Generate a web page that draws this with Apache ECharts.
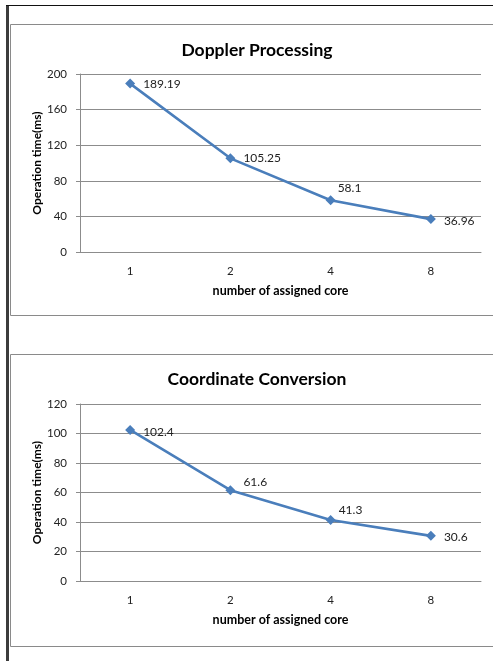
<!DOCTYPE html>
<html>
<head>
<meta charset="utf-8">
<script src="https://cdn.jsdelivr.net/npm/echarts@6/dist/echarts.min.js"></script>
<style>
  html, body { margin: 0; padding: 0; background: #fff; }
  #chart { width: 493px; height: 661px; }
</style>
</head>
<body>
<div id="chart"></div>
<script>
// Category axis: number of cores assigned
const cores = ['1', '2', '4', '8'];

// Operation times (ms)
const dopplerTimes = [189.19, 105.25, 58.1, 36.96];
const coordTimes = [102.4, 61.6, 41.3, 30.6];

// Panel titles and axis names
const dopplerTitle = 'Doppler Processing';
const coordTitle = 'Coordinate Conversion';
const yName = 'Operation time(ms)';
const xName = 'number of assigned core';

// Value-label nudges per point (pixels), to keep labels off the line
const dopplerLabelShift = [[0, 1], [0, 0], [-6, -12], [0, 2]];
const coordLabelShift = [[0, 2], [0, -8], [-5, -10], [0, 1]];

const FONT = 'Lato, "Open Sans", sans-serif';
const LINE = '#4a7ebb';
const GRID = '#8c8c8c';

function points(values, shifts) {
  return values.map((v, i) => ({
    value: v,
    label: { offset: shifts[i] }
  }));
}

function yAxis(gridIndex, max, interval) {
  return {
    type: 'value', gridIndex, min: 0, max, interval,
    name: yName, nameLocation: 'middle', nameGap: 37, nameMoveOverlap: false,
    nameTextStyle: { fontFamily: FONT, fontWeight: 'bold', fontSize: 12, color: '#000' },
    axisLine: { show: true, lineStyle: { color: GRID, width: 1 } },
    axisTick: { show: true, inside: false, length: 4, lineStyle: { color: GRID } },
    axisLabel: { margin: 13, fontFamily: FONT, fontSize: 11.5, color: '#222' },
    splitLine: { show: true, lineStyle: { color: GRID, width: 1 } }
  };
}

function xAxis(gridIndex) {
  return {
    type: 'category', gridIndex, data: cores, boundaryGap: true,
    name: xName, nameLocation: 'middle', nameGap: 32, nameMoveOverlap: false,
    nameTextStyle: { fontFamily: FONT, fontWeight: 'bold', fontSize: 12.5, color: '#000' },
    axisLine: { show: true, onZero: false, lineStyle: { color: GRID, width: 1 } },
    axisTick: { show: false },
    axisLabel: { margin: 13, fontFamily: FONT, fontSize: 11.5, color: '#222' },
    splitLine: { show: false }
  };
}

function lineSeries(idx, values, shifts) {
  return {
    type: 'line', xAxisIndex: idx, yAxisIndex: idx,
    data: points(values, shifts),
    symbol: 'diamond', symbolSize: 10,
    lineStyle: { color: LINE, width: 2.6 },
    itemStyle: { color: LINE },
    label: {
      show: true, position: 'right', distance: 8,
      fontFamily: FONT, fontSize: 12, color: '#222'
    },
    emphasis: { disabled: true },
    animation: false
  };
}

const chart = echarts.init(document.getElementById('chart'), null, { renderer: 'canvas' });

chart.setOption({
  backgroundColor: '#fff',
  animation: false,
  title: [
    { text: dopplerTitle, left: 252, top: 36, textAlign: 'center',
      textStyle: { fontFamily: FONT, fontWeight: 'bold', fontSize: 17.5, color: '#000' } },
    { text: coordTitle, left: 252, top: 365, textAlign: 'center',
      textStyle: { fontFamily: FONT, fontWeight: 'bold', fontSize: 17.5, color: '#000' } }
  ],
  graphic: [
    // outer frame
    { type: 'rect', shape: { x: 6, y: 5, width: 3, height: 661 }, style: { fill: '#3c3c3c' }, silent: true },
    { type: 'line', shape: { x1: 6, y1: 5.5, x2: 493, y2: 5.5 }, style: { stroke: '#111', lineWidth: 1 }, silent: true },
    // chart panels
    { type: 'rect', shape: { x: 10.5, y: 24.5, width: 490, height: 291 }, style: { fill: 'none', stroke: '#8a8a8a', lineWidth: 1 }, silent: true },
    { type: 'rect', shape: { x: 10.5, y: 354.5, width: 490, height: 292 }, style: { fill: 'none', stroke: '#8a8a8a', lineWidth: 1 }, silent: true }
  ],
  grid: [
    { left: 80, right: 12, top: 74, height: 178 },
    { left: 80, right: 12, top: 404, height: 177 }
  ],
  xAxis: [xAxis(0), xAxis(1)],
  yAxis: [yAxis(0, 200, 40), yAxis(1, 120, 20)],
  series: [
    lineSeries(0, dopplerTimes, dopplerLabelShift),
    lineSeries(1, coordTimes, coordLabelShift)
  ]
});
</script>
</body>
</html>
